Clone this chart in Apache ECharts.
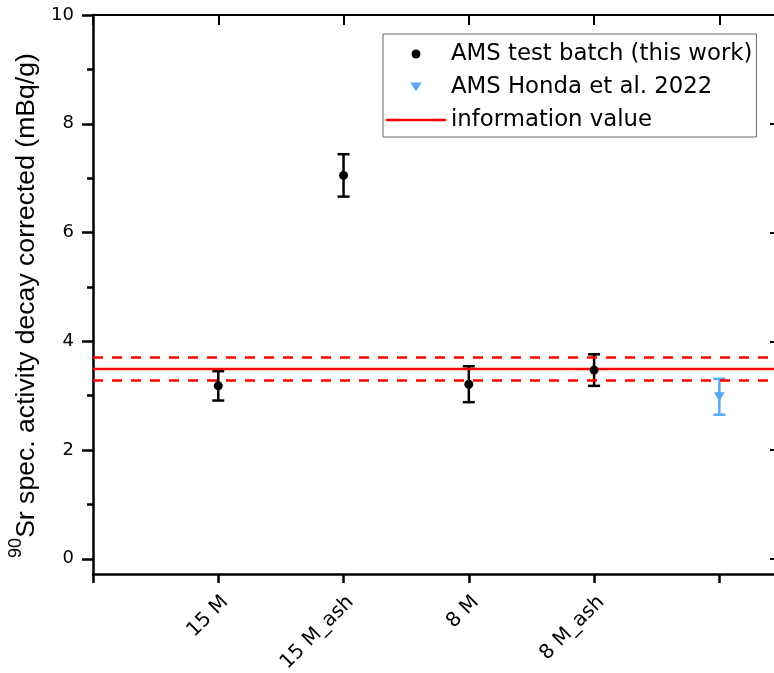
<!DOCTYPE html>
<html>
<head>
<meta charset="utf-8">
<script src="https://cdn.jsdelivr.net/npm/echarts@6/dist/echarts.min.js"></script>
<style>html,body{margin:0;padding:0;background:#fff}#c{width:774px;height:673px}</style>
</head>
<body>
<div id="c"></div>
<script>
// ---- data ----
const categories = ["15 M", "15 M_ash", "8 M", "8 M_ash", ""];
const amsX = [1, 2, 3, 4];
const amsValues = [3.18, 7.05, 3.21, 3.47];
const amsErrors = [0.27, 0.39, 0.33, 0.29];
const hondaX = [5];
const hondaValues = [2.98];
const hondaErrors = [0.33];
const infoValue = 3.49;
const infoLow = 3.28;
const infoHigh = 3.70;
const yMajorTicks = [0, 2, 4, 6, 8, 10];
const yMinorTicks = [1, 3, 5, 7, 9];
const xTicks = [0, 1, 2, 3, 4, 5];
const xLabelTicks = [1, 2, 3, 4];

const FONT = 'Liberation Sans, Arial, sans-serif';
const WFONT = 'DejaVu Sans, sans-serif';
const X_MIN = 0, X_MAX = 5.5, Y_MIN = -0.28, Y_MAX = 10;

function errData(xs, vals, errs) {
  return xs.map((x, i) => [x, vals[i] - errs[i], vals[i] + errs[i]]);
}
function errRender(color) {
  return function (params, api) {
    const x = api.value(0);
    const lo = api.coord([x, api.value(1)]);
    const hi = api.coord([x, api.value(2)]);
    const hw = 6;
    const st = { stroke: color, lineWidth: 2.5 };
    return {
      type: 'group',
      children: [
        { type: 'line', shape: { x1: lo[0], y1: lo[1], x2: hi[0], y2: hi[1] }, style: st },
        { type: 'line', shape: { x1: lo[0] - hw, y1: lo[1], x2: lo[0] + hw, y2: lo[1] }, style: st },
        { type: 'line', shape: { x1: hi[0] - hw, y1: hi[1], x2: hi[0] + hw, y2: hi[1] }, style: st }
      ]
    };
  };
}

const chart = echarts.init(document.getElementById('c'), null, { renderer: 'canvas' });
const option = {
  animation: false,
  backgroundColor: '#fff',
  textStyle: { fontFamily: FONT, color: '#000' },
  grid: { left: 93, top: 15, width: 689, height: 559, containLabel: false, outerBoundsMode: 'none' },
  legend: {
    orient: 'vertical',
    left: 383, top: 34,
    borderColor: '#666', borderWidth: 1,
    padding: [8, 4, 5, 3],
    itemWidth: 60, itemHeight: 9, itemGap: 9,
    textStyle: { fontSize: 22.8, lineHeight: 24, color: '#000', fontFamily: WFONT },
    data: [
      { name: 'AMS test batch (this work)', icon: 'circle' },
      { name: 'AMS Honda et al. 2022', icon: 'path://M0,0 L10,0 L5,8 Z' },
      { name: 'information value', icon: 'path://M0,0 L60,0 L60,2.5 L0,2.5 Z' }
    ]
  },
  xAxis: [
    {
      type: 'value', position: 'bottom', min: X_MIN, max: X_MAX, interval: 1,
      axisLine: { onZero: false, lineStyle: { color: '#000', width: 2.5 } },
      axisTick: { show: true, inside: false, length: 9, customValues: xTicks, lineStyle: { color: '#000', width: 2.5 } },
      splitLine: { show: false },
      axisLabel: {
        rotate: 45, fontSize: 20, color: '#000', fontFamily: WFONT, margin: 18,
        verticalAlign: 'top',
        customValues: xLabelTicks,
        formatter: function (v) { return categories[Math.round(v) - 1] || ''; }
      }
    },
    {
      type: 'value', position: 'top', min: X_MIN, max: X_MAX, interval: 1,
      axisLine: { onZero: false, lineStyle: { color: '#000', width: 2 } },
      axisTick: { show: true, inside: true, length: 10, customValues: xTicks, lineStyle: { color: '#000', width: 2 } },
      splitLine: { show: false },
      axisLabel: { show: false }
    }
  ],
  yAxis: [
    {
      type: 'value', position: 'left', min: Y_MIN, max: Y_MAX,
      axisLine: { show: true, onZero: false, lineStyle: { color: '#000', width: 2.5 } },
      axisTick: { show: true, length: 11, customValues: yMajorTicks, lineStyle: { color: '#000', width: 2.5 } },
      axisLabel: { fontSize: 18, color: '#000', fontFamily: WFONT, margin: 19, customValues: yMajorTicks },
      splitLine: { show: false },
      name: '{sup|90}{n|Sr spec. activity decay corrected (mBq/g)}',
      nameLocation: 'middle', nameGap: 40, nameRotate: 90,
      nameTextStyle: {
        fontFamily: FONT, color: '#000', padding: [0, 22, 0, 0],
        rich: {
          sup: { fontSize: 18, fontFamily: FONT, color: '#000', verticalAlign: 'top', lineHeight: 33 },
          n: { fontSize: 26.6, fontFamily: FONT, color: '#000', verticalAlign: 'bottom', lineHeight: 33 }
        }
      }
    },
    {
      type: 'value', position: 'left', min: Y_MIN, max: Y_MAX,
      axisLine: { show: false, onZero: false },
      axisTick: { show: true, length: 6, customValues: yMinorTicks, lineStyle: { color: '#000', width: 2.5 } },
      axisLabel: { show: false },
      splitLine: { show: false }
    },
    {
      type: 'value', position: 'right', min: Y_MIN, max: Y_MAX,
      axisLine: { show: true, onZero: false, lineStyle: { color: '#000', width: 2 } },
      axisTick: { show: true, inside: true, length: 12, customValues: yMajorTicks, lineStyle: { color: '#000', width: 2 } },
      axisLabel: { show: false },
      splitLine: { show: false }
    }
  ],
  series: [
    {
      name: 'info-high', type: 'line', symbol: 'none', silent: true,
      lineStyle: { color: '#ff0000', width: 2.5, type: [10, 9] },
      data: [[X_MIN, infoHigh], [X_MAX, infoHigh]]
    },
    {
      name: 'info-low', type: 'line', symbol: 'none', silent: true,
      lineStyle: { color: '#ff0000', width: 2.5, type: [10, 9] },
      data: [[X_MIN, infoLow], [X_MAX, infoLow]]
    },
    {
      name: 'information value', type: 'line', symbol: 'none',
      lineStyle: { color: '#ff0000', width: 2.5 }, itemStyle: { color: '#ff0000' },
      data: [[X_MIN, infoValue], [X_MAX, infoValue]]
    },
    {
      name: 'ams-err', type: 'custom', renderItem: errRender('#000'),
      data: errData(amsX, amsValues, amsErrors), z: 3
    },
    {
      name: 'honda-err', type: 'custom', renderItem: errRender('#55aaf5'),
      data: errData(hondaX, hondaValues, hondaErrors), z: 3
    },
    {
      name: 'AMS test batch (this work)', type: 'scatter', symbol: 'circle', symbolSize: 9,
      itemStyle: { color: '#000', opacity: 1 }, z: 4,
      data: amsX.map((x, i) => [x, amsValues[i]])
    },
    {
      name: 'AMS Honda et al. 2022', type: 'scatter', symbol: 'path://M0,0 L10,0 L5,8 Z', symbolSize: [11, 9],
      itemStyle: { color: '#55aaf5', opacity: 1 }, z: 4,
      data: hondaX.map((x, i) => [x, hondaValues[i]])
    }
  ]
};
chart.setOption(option);
</script>
</body>
</html>
